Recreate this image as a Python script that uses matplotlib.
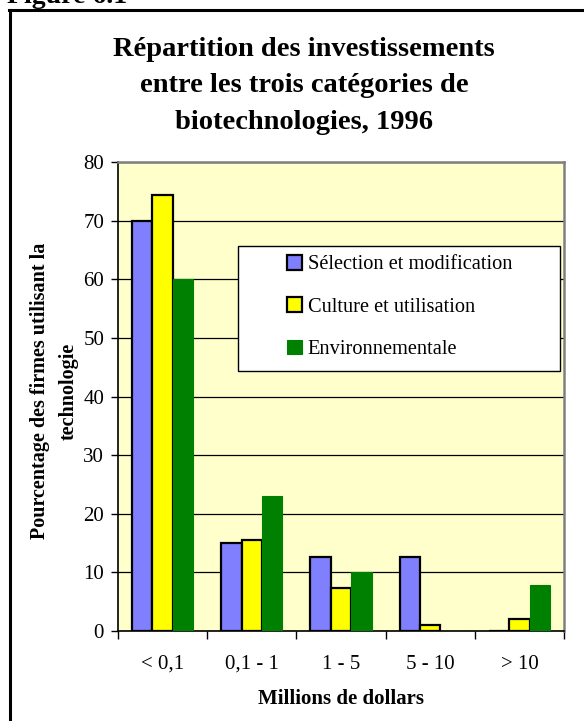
import matplotlib
matplotlib.use("Agg")
import matplotlib.pyplot as plt
from matplotlib.patches import Rectangle
from matplotlib.lines import Line2D
import numpy as np

categories = ["< 0,1", "0,1 - 1", "1 - 5", "5 - 10", "> 10"]
selection = [70, 15, 12.6, 12.6, 0]
culture = [74.4, 15.5, 7.4, 1.0, 2.0]
environnementale = [60, 23, 10.1, 0, 7.9]
series_names = ["Sélection et modification", "Culture et utilisation", "Environnementale"]
y_ticks = [0, 10, 20, 30, 40, 50, 60, 70, 80]
title_lines = ["Répartition des investissements",
               "entre les trois catégories de",
               "biotechnologies, 1996"]

W, H = 584, 721
plt.rcParams['font.family'] = ['Liberation Serif', 'DejaVu Serif']
fig = plt.figure(figsize=(W / 100, H / 100), dpi=100)
fig.patch.set_facecolor('white')

def fx(px):
    return px / W

def fy(py):
    return 1 - py / H

# outer frame (cropped on right/bottom)
fig.add_artist(Line2D([fx(10), fx(10)], [fy(10), fy(740)], color='black', lw=2.2,
                      transform=fig.transFigure))
fig.add_artist(Line2D([fx(9), fx(600)], [fy(10), fy(10)], color='black', lw=2.2,
                      transform=fig.transFigure))
fig.text(fx(7), fy(3), "Figure 6.1", fontsize=20, fontweight='bold', va='baseline', ha='left')

# title
for i, line in enumerate(title_lines):
    fig.text(fx(304), fy(56 + 36.5 * i), line, fontsize=20.5, fontweight='bold',
             ha='center', va='baseline')

ax = fig.add_axes([fx(118), fy(631), fx(564) - fx(118), (631 - 162) / H])
ax.set_facecolor('#FFFFCC')

x = np.arange(len(categories))
bw = 0.228
colors = ['#8080FF', '#FFFF00', '#008000']
edges = ['black', 'black', '#008000']
data = [selection, culture, environnementale]
bars = []
for k, (vals, c, e) in enumerate(zip(data, colors, edges)):
    b = ax.bar(x + (k - 1) * bw, vals, width=bw, color=c, edgecolor=e,
               linewidth=1.6 if e == 'black' else 0.8, zorder=3, label=series_names[k])
    bars.append(b)

ax.set_xlim(-0.5, len(categories) - 0.5)
ax.set_ylim(0, 80)
ax.set_yticks(y_ticks)
ax.set_yticklabels([str(v) for v in y_ticks])
ax.yaxis.grid(True, color='black', lw=0.9, zorder=1)
ax.set_axisbelow(True)

ax.set_xticks(x)
ax.set_xticklabels(categories)
ax.set_xticks(np.arange(-0.5, len(categories), 1.0), minor=True)
ax.tick_params(axis='x', which='major', length=0, pad=17, labelsize=15)
ax.tick_params(axis='x', which='minor', length=6, width=1, direction='out', color='black')
ax.tick_params(axis='y', length=5, width=1, direction='out', pad=5, labelsize=15)

for s in ['left', 'bottom']:
    ax.spines[s].set_color('black')
    ax.spines[s].set_linewidth(1.2)
for s in ['top', 'right']:
    ax.spines[s].set_color('#808080')
    ax.spines[s].set_linewidth(1.8)

ax.set_xlabel("Millions de dollars", fontsize=15, fontweight='bold', labelpad=11)

# y label (two lines)
fig.text(fx(40), fy(391), "Pourcentage des firmes utilisant la", rotation=90,
         fontsize=14.5, fontweight='bold', ha='center', va='center')
fig.text(fx(69), fy(391), "technologie", rotation=90,
         fontsize=14.5, fontweight='bold', ha='center', va='center')

# legend box
fig.add_artist(Rectangle((fx(238), fy(371)), fx(560) - fx(238), (371 - 246) / H,
                         facecolor='white', edgecolor='black', lw=1.0,
                         transform=fig.transFigure, zorder=5))
leg = fig.legend(handles=bars, labels=series_names, loc='upper left',
                 bbox_to_anchor=(fx(287), fy(255)), frameon=False, fontsize=14.7,
                 handlelength=0.72, handleheight=0.72, handletextpad=0.3,
                 labelspacing=1.12, borderpad=0, borderaxespad=0)
leg.set_zorder(6)

fig.savefig("out.png", dpi=100)
